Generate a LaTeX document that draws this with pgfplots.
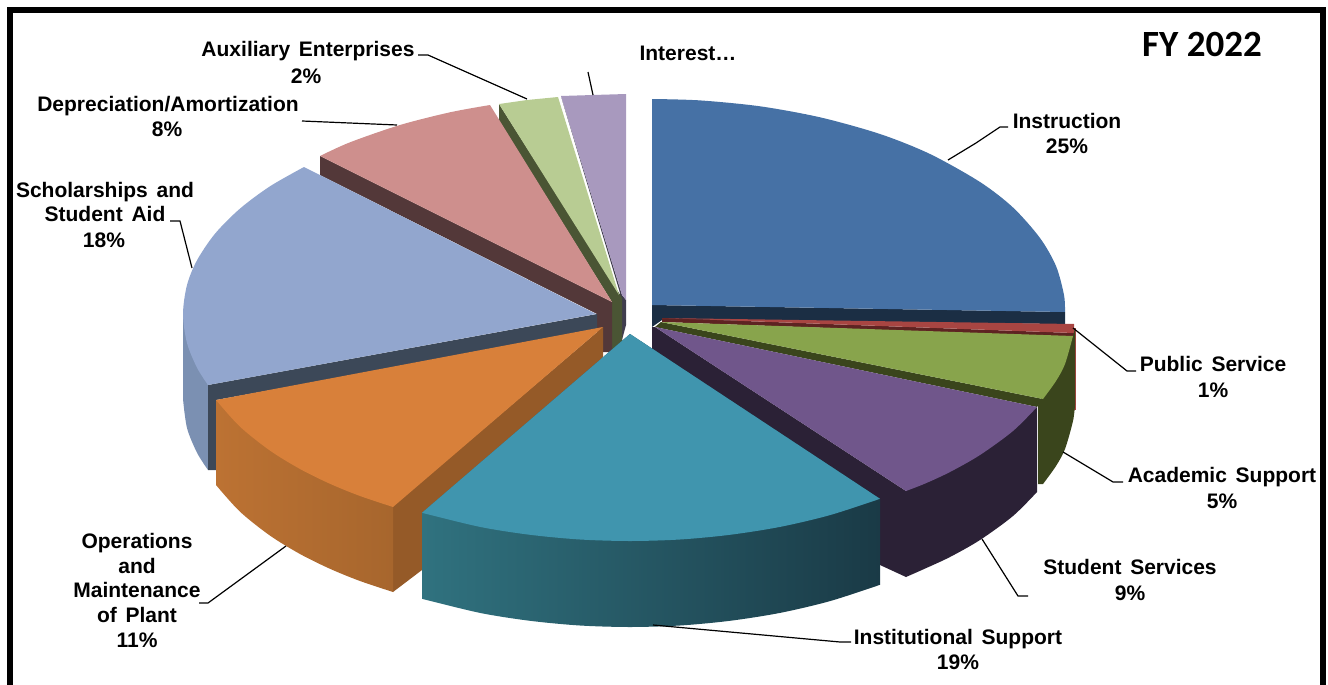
\documentclass[border=0pt]{standalone}
\usepackage{fontspec}
\setmainfont{Liberation Sans}[WordSpace=1.5]
\newfontfamily\fyfont{Carlito}
\usepackage{pgfplots}
\pgfplotsset{compat=1.18}

\definecolor{instr}{HTML}{4671A5}
\definecolor{instrD}{HTML}{1B2E44}
\definecolor{pub}{HTML}{A84542}
\definecolor{pubD}{HTML}{5E2322}
\definecolor{acad}{HTML}{88A44C}
\definecolor{acadD}{HTML}{3A451C}
\definecolor{stud}{HTML}{70568B}
\definecolor{studD}{HTML}{2B2136}
\definecolor{inst}{HTML}{4095AE}
\definecolor{instL}{HTML}{30727F}
\definecolor{instM}{HTML}{235462}
\definecolor{instR}{HTML}{1A3A46}
\definecolor{oper}{HTML}{D8803A}
\definecolor{operL}{HTML}{BC7233}
\definecolor{operR}{HTML}{A7662D}
\definecolor{operD}{HTML}{955A28}
\definecolor{schol}{HTML}{92A6CE}
\definecolor{scholW}{HTML}{7B90B2}
\definecolor{scholD}{HTML}{3C4858}
\definecolor{depr}{HTML}{CE8F8D}
\definecolor{deprD}{HTML}{533839}
\definecolor{aux}{HTML}{B8CC93}
\definecolor{auxD}{HTML}{4A5534}
\definecolor{inter}{HTML}{A899BE}
\definecolor{interD}{HTML}{403D4E}

% one line of label text, x = centre, y = baseline
\newcommand{\lab}[3]{\node[anchor=base,inner sep=0pt,font=\fontsize{21}{21}\selectfont\bfseries] at (axis cs:#1,#2) {#3};}

\begin{document}
\begin{tikzpicture}
\path[use as bounding box] (0,0) rectangle (1328pt,685pt);
\begin{axis}[
  scale only axis, width=1328pt, height=685pt,
  xmin=0, xmax=1328, ymin=0, ymax=685, y dir=reverse,
  hide axis, no markers,
  leader/.style={black, line width=1.2pt, sharp plot},
  face/.style={draw=none, fill=#1},
]
% frame
\addplot[black, line width=6.4pt, sharp plot] coordinates {(10,685) (10,10) (1323,10) (1323,685)};

% Instruction
\addplot[face=instrD] coordinates {(652,305) (1065,312) (1065,324) (662,320) (652,327)} --cycle;
\addplot[face=instr, smooth] coordinates {(652,99) (700,100.4) (760,106.3) (820,117.3) (880,134) (930,154) (980,182) (1013,207.5) (1040,238) (1056,266) (1064,295) (1065,312)} -- (axis cs:652,305) -- cycle;

% Public Service
\addplot[face=pub] coordinates {(1072,328) (1075.5,328) (1075.5,410) (1072,410)} --cycle;
\addplot[face=pubD] coordinates {(662,318) (1074,333) (1074,337) (662,322)} --cycle;
\addplot[face=pub] coordinates {(662,318) (1074,324) (1074,333)} --cycle;

% Academic Support
\addplot[face=acadD, smooth] coordinates {(1075,405) (1073,421) (1065,449) (1056,466) (1043,484)} -- (axis cs:1038,484) -- (axis cs:1038,405) -- (axis cs:1073,336) -- (axis cs:1075,328) -- cycle;
\addplot[face=acadD] coordinates {(661,322) (1043,399) (1037,407) (655,327)} --cycle;
\addplot[face=acad, smooth] coordinates {(1073,336) (1065,364) (1056,381) (1043,399)} -- (axis cs:661,322) -- cycle;

% Student Services
\addplot[face=studD] coordinates {(652,327) (655,327) (906,491) (906,577) (880,565) (880,504) (652,352)} --cycle;
\addplot[face=studD, smooth] coordinates {(906,577) (925,568.6) (950,557) (980,540) (1013,516) (1037,492)} -- (axis cs:1037,407) -- (axis cs:906,491) -- cycle;
\addplot[face=stud, smooth] coordinates {(906,491) (925,483.6) (950,472) (980,455) (1013,431) (1037,407)} -- (axis cs:655,327) -- cycle;

% Interest
\addplot[face=interD] coordinates {(561,96) (622,295) (626,300) (626,325) (622,340) (620,293) (563,103)} --cycle;
\addplot[face=inter] coordinates {(561,96) (593,95) (626,94) (626,300) (622,295)} --cycle;

% Auxiliary Enterprises
\addplot[face=auxD] coordinates {(499,104) (619,293) (622,298) (622,345) (612,350) (612,302) (499,121)} --cycle;
\addplot[face=aux] coordinates {(499,104) (527,100) (558,97) (619,295)} --cycle;

% Depreciation/Amortization
\addplot[face=deprD] coordinates {(320,156) (612,302) (612,352) (597,352) (597,314) (320,175)} --cycle;
\addplot[face=depr, smooth] coordinates {(320,156) (350,142.3) (400,125) (450,112.3) (490,105)} -- (axis cs:612,302) -- cycle;

% Scholarships and Student Aid
\addplot[face=scholW, smooth] coordinates {(183,399) (187,428) (197,452.7) (208,470)} -- (axis cs:208,385) -- (axis cs:183,314) -- cycle;
\addplot[face=scholD] coordinates {(208,385) (597,314) (597,331) (216,400) (216,470) (208,470)} --cycle;
\addplot[face=schol, smooth] coordinates {(304,167) (270,186.3) (240,208.6) (215,233.7) (197,260.3) (187,285) (183,314) (187,343) (197,367.7) (208,385)} -- (axis cs:596,314) -- cycle;

% Operations and Maintenance of Plant
\addplot[face=operD] coordinates {(393,506) (603,327) (603,357) (422,570) (393,592)} --cycle;
\addplot[draw=none, left color=operL, right color=operR, smooth] coordinates {(216,485) (240,511.7) (270,535.6) (300,554) (330,568.8) (360,581) (393,592)} -- (axis cs:393,506) -- (axis cs:216,400) -- cycle;
\addplot[face=oper, smooth] coordinates {(216,400) (240,426.7) (270,450.6) (300,469) (330,483.8) (360,496) (393,507)} -- (axis cs:603,327) -- cycle;

% Institutional Support
\addplot[draw=none, left color=instL, middle color=instM, right color=instR, smooth] coordinates {(422,598.8) (480,612.9) (530,620.8) (580,625.5) (630,627) (680,625.5) (730,620.8) (780,612.9) (830,601.1) (880,584.8)} -- (axis cs:880,498.8) -- (axis cs:630,334) -- (axis cs:422,512.8) -- cycle;
\addplot[face=inst, smooth] coordinates {(422,512.8) (480,526.9) (530,534.8) (580,539.5) (630,541) (680,539.5) (730,534.8) (780,526.9) (830,515.1) (880,498.8)} -- (axis cs:630,334) -- cycle;

% leader lines
\addplot[leader] coordinates {(948,160) (976,143) (1000,127) (1008,127)};
\addplot[leader] coordinates {(1073,328) (1127,371) (1136,371)};
\addplot[leader] coordinates {(1063,452) (1113,482) (1123,482)};
\addplot[leader] coordinates {(982,539) (1018,596) (1028,596)};
\addplot[leader] coordinates {(653,625) (840,642) (851,642)};
\addplot[leader] coordinates {(286,546) (208,603) (199,603)};
\addplot[leader] coordinates {(192,268) (180,221) (170,221)};
\addplot[leader] coordinates {(397,125) (302,121)};
\addplot[leader] coordinates {(527,99) (428,55) (418,55)};
\addplot[leader] coordinates {(593,95) (588,72)};

% labels
\lab{308}{57}{Auxiliary Enterprises}
\lab{306}{83}{2\%}
\lab{168}{111}{Depreciation/Amortization}
\lab{167}{136}{8\%}
\lab{105}{197}{Scholarships and}
\lab{105}{221}{Student Aid}
\lab{104}{247}{18\%}
\lab{688}{60}{Interest…}
\lab{1067}{128}{Instruction}
\lab{1067}{153}{25\%}
\lab{1213}{371}{Public Service}
\lab{1213}{397}{1\%}
\lab{1222}{482}{Academic Support}
\lab{1222}{508}{5\%}
\lab{1130}{574}{Student Services}
\lab{1130}{600}{9\%}
\lab{958}{644}{Institutional Support}
\lab{958}{669}{19\%}
\lab{137}{548}{Operations}
\lab{137}{573}{and}
\lab{137}{597}{Maintenance}
\lab{137}{622}{of Plant}
\lab{137}{647}{11\%}
\node[anchor=base,inner sep=0pt,font=\fyfont\fontsize{37}{37}\selectfont\bfseries] at (axis cs:1202,57) {FY 2022};
\end{axis}
\end{tikzpicture}
\end{document}
